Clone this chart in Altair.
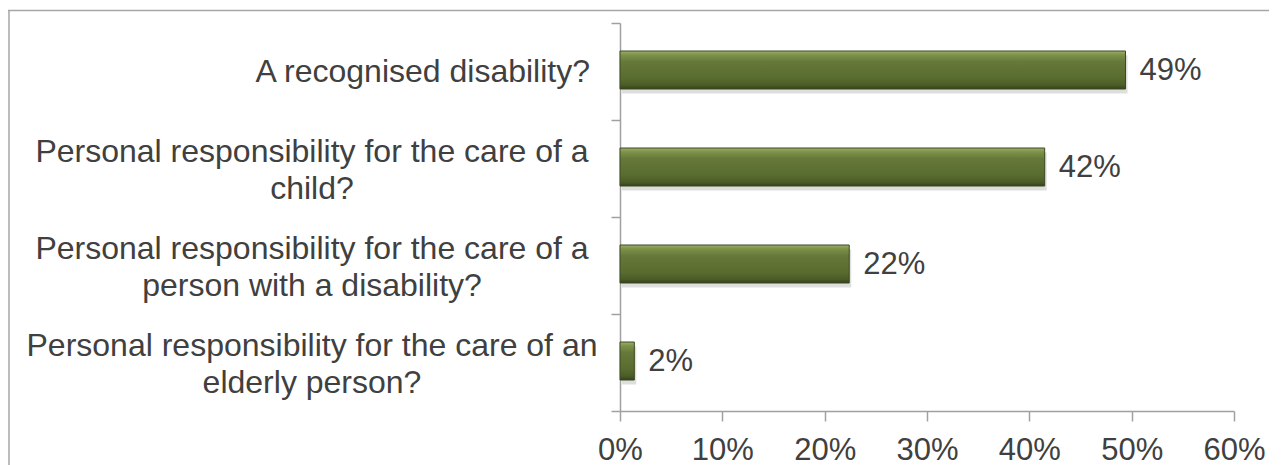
import altair as alt
import pandas as pd

categories = [
    "A recognised disability?",
    "Personal responsibility for the care of a\nchild?",
    "Personal responsibility for the care of a\nperson with a disability?",
    "Personal responsibility for the care of an\nelderly person?",
]
values = [0.494, 0.415, 0.224, 0.014]
value_labels = ["49%", "42%", "22%", "2%"]
x_ticks = [0.0, 0.1, 0.2, 0.3, 0.4, 0.5, 0.6]

df = pd.DataFrame({"category": categories, "value": values, "label": value_labels})
border_df = pd.DataFrame({"k": [0]})

FONT = "Liberation Sans"
TEXT = "#404040"
AXIS = "#a0a0a0"

y_enc = alt.Y(
    "category:N",
    sort=categories,
    scale=alt.Scale(paddingInner=0, paddingOuter=0),
    axis=alt.Axis(
        title=None,
        labels=False,
        tickBand="extent",
        tickSize=9,
        tickColor=AXIS,
        tickWidth=1.5,
        domainColor=AXIS,
        domainWidth=1.5,
        grid=False,
    ),
)

x_enc = alt.X(
    "value:Q",
    scale=alt.Scale(domain=[0, 0.6], nice=False),
    axis=alt.Axis(
        title=None,
        values=x_ticks,
        format=".0%",
        labelFont=FONT,
        labelFontSize=31,
        labelColor=TEXT,
        labelPadding=14,
        labelFlush=False,
        tickSize=10,
        tickColor=AXIS,
        tickWidth=1.5,
        domainColor=AXIS,
        domainWidth=1.5,
        grid=False,
    ),
)

gradient = alt.Gradient(
    gradient="linear",
    x1=0, x2=0, y1=0, y2=1,
    stops=[
        alt.GradientStop(color="#9db06c", offset=0.0),
        alt.GradientStop(color="#7f9249", offset=0.1),
        alt.GradientStop(color="#66793a", offset=0.28),
        alt.GradientStop(color="#5a6d30", offset=0.7),
        alt.GradientStop(color="#4b5c27", offset=0.9),
        alt.GradientStop(color="#33411a", offset=1.0),
    ],
)

base = alt.Chart(df)

shadow = base.mark_bar(size=38, color="#000000", opacity=0.13, yOffset=3, xOffset=2).encode(x=x_enc, y=y_enc)
bars = base.mark_bar(size=38, color=gradient, stroke="#3a4820", strokeWidth=1, yOffset=-1.5).encode(x=x_enc, y=y_enc)
texts = base.mark_text(
    align="left", baseline="middle", dx=14, dy=-1, fontSize=31, font=FONT, color=TEXT
).encode(x=x_enc, y=y_enc, text="label:N")

single_labels = base.transform_filter("indexof(datum.category, '\\n') < 0").mark_text(
    align="right", baseline="middle", fontSize=32, font=FONT, color=TEXT
).encode(x=alt.value(-30), y=y_enc, text="category:N")

multi_labels = base.transform_filter("indexof(datum.category, '\\n') >= 0").mark_text(
    align="center", baseline="middle", fontSize=32, font=FONT, color=TEXT,
    lineBreak="\n", lineHeight=37, dy=-17
).encode(x=alt.value(-308), y=y_enc, text="category:N")

top_border = alt.Chart(border_df).mark_rule(color="#a6a6a6", strokeWidth=1.5).encode(
    x=alt.value(-612), x2=alt.value(700), y=alt.value(-12.5)
)
left_border = alt.Chart(border_df).mark_rule(color="#a6a6a6", strokeWidth=1.5).encode(
    x=alt.value(-611), y=alt.value(-12.5), y2=alt.value(470)
)

chart = alt.layer(
    shadow, bars, texts, single_labels, multi_labels, top_border, left_border
).properties(
    width=614,
    height=388,
    autosize="none",
    padding={"left": 612, "top": 15, "right": 35, "bottom": 54},
).configure_view(stroke=None)

chart.save("out.html", embed_options={"renderer": "svg", "actions": False})
